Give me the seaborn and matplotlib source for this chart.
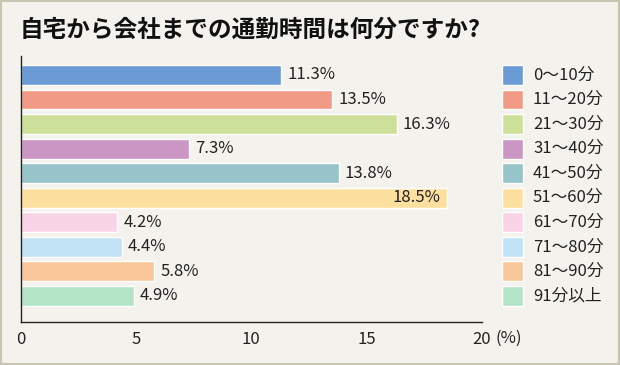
import pandas as pd
import numpy as np
import matplotlib.pyplot as plt
import seaborn as sns
from matplotlib.patches import Rectangle

categories = ['0〜10分', '11〜20分', '21〜30分', '31〜40分', '41〜50分',
              '51〜60分', '61〜70分', '71〜80分', '81〜90分', '91分以上']
values = [11.3, 13.5, 16.3, 7.3, 13.8, 18.5, 4.2, 4.4, 5.8, 4.9]
colors = ['#6a9bd4', '#f19b86', '#cde09a', '#cc96c4', '#96c4c9',
          '#fde0a0', '#f9d4e6', '#c2e2f5', '#f8c89a', '#b4e4c6']
xticks = [0, 5, 10, 15, 20]
title = '自宅から会社までの通勤時間は何分ですか?'

sns.set_style('white')
plt.rcParams['font.family'] = ['Noto Sans CJK JP', 'DejaVu Sans']

bg = '#f3f2ed'
ink = '#222222'
df = pd.DataFrame({'cat': categories, 'val': values})

fig = plt.figure(figsize=(6.2, 3.65), dpi=100, facecolor=bg)
fig.patches.append(Rectangle((0, 0), 1, 1, transform=fig.transFigure, fill=False,
                             edgecolor='#c8c6b0', linewidth=3))

# main bar axes (pixel-based placement)
top, bottom = 56, 322
ax = fig.add_axes([20.5/620, 1-bottom/365, (482-20.5)/620, (bottom-top)/365])
ax.set_facecolor(bg)

sns.barplot(data=df, y='cat', x='val', hue='cat', palette=colors, dodge=False,
            orient='h', width=0.81, legend=False, ax=ax, saturation=1)

ax.set_xlim(0, 20)
ax.set_ylim(9 + 1.06, -0.77)
ax.set_xticks(xticks)
ax.set_xticklabels([str(t) for t in xticks], fontsize=12)
ax.set_yticks([])
ax.set_xlabel('')
ax.set_ylabel('')
ax.tick_params(axis='x', direction='in', length=7, width=1, pad=6.5, colors=ink)
for s in ['top', 'right']:
    ax.spines[s].set_visible(False)
for s in ['left', 'bottom']:
    ax.spines[s].set_color(ink)
    ax.spines[s].set_linewidth(1)

for i, v in enumerate(values):
    if v > 18:
        ax.text(v - 0.3, i, f'{v}%', va='center', ha='right', fontsize=12, color=ink)
    else:
        ax.text(v + 0.26, i, f'{v}%', va='center', ha='left', fontsize=12, color=ink)

ax.annotate('(%)', xy=(20, 0), xycoords=ax.get_xaxis_transform(),
            xytext=(10, -12), textcoords='offset points', fontsize=12,
            va='center', ha='left', color=ink, annotation_clip=False)

# legend drawn as swatches on the same row scale as the bars
lax = fig.add_axes([502/620, 1-bottom/365, 110/620, (bottom-top)/365], sharey=ax)
lax.set_xlim(0, 110)
lax.axis('off')
for i, (c, lab) in enumerate(zip(colors, categories)):
    lax.barh(i, 21, height=0.81, color=c, left=0)
    lax.text(31, i, lab, va='center', ha='left', fontsize=12, color=ink)

fig.text(20/620, 1-30/365, title, fontsize=17, fontweight='bold', va='center',
         ha='left', color='#111111')

fig.savefig('out.png', dpi=100, facecolor=bg)
